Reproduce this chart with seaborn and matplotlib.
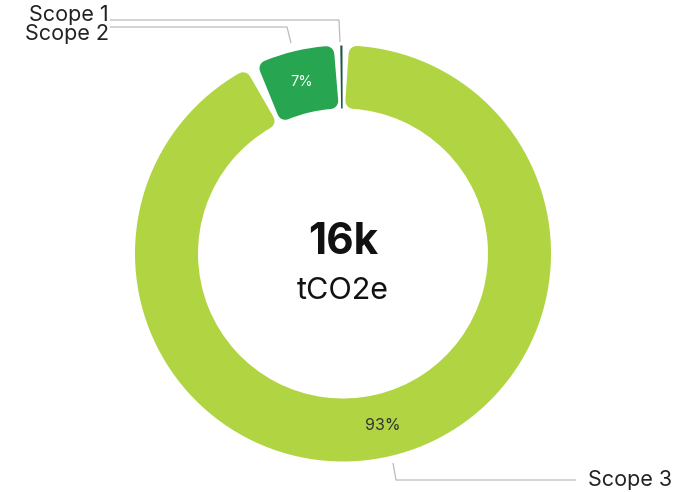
import numpy as np
import matplotlib
matplotlib.use('Agg')
import matplotlib.pyplot as plt
import seaborn as sns

# Emissions by scope (tCO2e)
scopes = ['Scope 1', 'Scope 2', 'Scope 3']
emissions = [40, 1120, 14850]
colors = ['#1d5446', '#27a550', '#b1d443']
total_label = '16k'
unit_label = 'tCO2e'

sns.set_theme(style='white')
plt.rcParams['font.family'] = ['Inter', 'DejaVu Sans']

W, H, DPI = 678, 492, 100
fig = plt.figure(figsize=(W / DPI, H / DPI), dpi=DPI)
ax = fig.add_axes([0, 0, 1, 1])

# pixel -> data helpers (ring center at 343, 253.5 px, outer radius 208 px)
cx, cy, scale = 343, 253.5, 208.0
def px(x, y):
    return (x - cx) / scale, (cy - y) / scale

def pct_fmt(p):
    return f'{p:.0f}%' if p >= 1 else ''

ring_w = 63 / scale
wedges, texts, autotexts = ax.pie(
    emissions, colors=colors, startangle=90, counterclock=True,
    radius=1.0, autopct=pct_fmt, pctdistance=0.848,
    wedgeprops=dict(width=ring_w, linewidth=0),
    textprops=dict(fontsize=10),
)

# rounded corners + gaps: shrink each big wedge, then stroke it in its own colour
corner = 8 / scale          # corner radius in data units
gap = 8 / scale
mid_r = 1.0 - ring_w / 2
dang = np.degrees((gap / 2 + corner) / mid_r)
for w in wedges[1:]:
    w.set_theta1(w.theta1 + dang)
    w.set_theta2(w.theta2 - dang)
    w.set_radius(1.0 - corner)
    w.set_width(ring_w - 2 * corner)
    w.set_edgecolor(w.get_facecolor())
    w.set_linewidth(2 * corner * scale * 72 / DPI)
    w.set_joinstyle('round')

# tiny Scope 1 slice, trimmed a little so it reads as a thin line
thin = 0.15
wedges[0].set_theta1(wedges[0].theta1 + thin)
wedges[0].set_theta2(wedges[0].theta2 - thin)
wedges[0].set_zorder(5)

autotexts[1].set_color('white')
autotexts[1].set_fontsize(10.5)
autotexts[2].set_color('#333333')
autotexts[2].set_fontsize(11.5)

ax.set_xlim((0 - cx) / scale, (W - cx) / scale)
ax.set_ylim((cy - H) / scale, cy / scale)
ax.set_aspect('auto')
ax.axis('off')

# centre text
ax.text(0, px(0, 243)[1], total_label, ha='center', va='center',
        fontsize=30.5, fontweight='bold', color='#111111')
ax.text(0, px(0, 291)[1], unit_label, ha='center', va='center',
        fontsize=22, color='#111111')

# leader lines
line_kw = dict(color='#bbbbbb', lw=0.9, solid_capstyle='butt')
l1 = [px(110, 20), px(339, 20), px(340, 42)]
l2 = [px(110, 27), px(287, 27), px(291, 43)]
l3 = [px(393, 463), px(396, 480), px(576, 480)]
for pts in (l1, l2, l3):
    xs, ys = zip(*pts)
    ax.plot(xs, ys, **line_kw)

lab_kw = dict(fontsize=15.5, color='#222222', va='center')
ax.text(*px(109, 15), scopes[0], ha='right', **lab_kw)
ax.text(*px(109, 34), scopes[1], ha='right', **lab_kw)
ax.text(*px(588, 480), scopes[2], ha='left', **lab_kw)

fig.savefig('out.png', dpi=DPI)
